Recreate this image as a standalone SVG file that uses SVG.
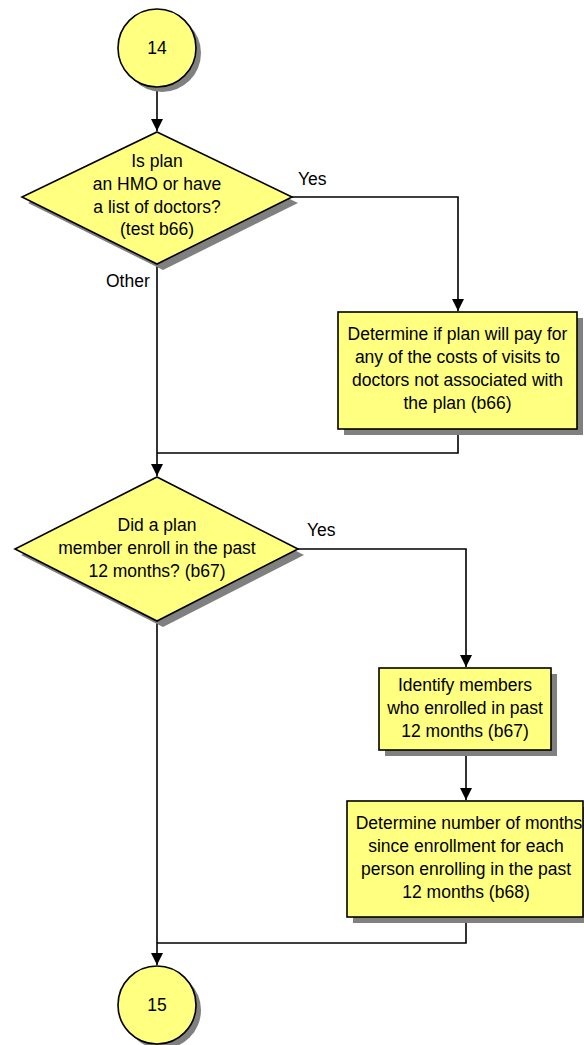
<svg xmlns="http://www.w3.org/2000/svg" width="584" height="1045" viewBox="0 0 584 1045">
  <style>
    .shape { fill: #ffff80; stroke: #000; stroke-width: 1.6; }
    .shadow { fill: #808080; stroke: none; }
    .label { font-family: "Liberation Sans", Arial, sans-serif; font-size: 17.5px; fill: #000; }
    .mid { text-anchor: middle; }
    .wire { fill: none; stroke: #000; stroke-width: 1.6; }
  </style>
  <defs>
    <marker id="arrow" viewBox="0 0 12 12" refX="12" refY="6" markerWidth="12" markerHeight="12" markerUnits="userSpaceOnUse" orient="auto">
      <path d="M0,0 L12,6 L0,12 Z" fill="#000"/>
    </marker>
  </defs>

  <rect width="584" height="1045" fill="#fff"/>

  <!-- connectors -->
  <g id="connectors">
    <path class="wire" d="M157,87 V131" marker-end="url(#arrow)"/>
    <path class="wire" d="M292,197 H458 V311" marker-end="url(#arrow)"/>
    <path class="wire" d="M157,264 V476" marker-end="url(#arrow)"/>
    <path class="wire" d="M458,429 V453 H157"/>
    <path class="wire" d="M298,549 H466 V667" marker-end="url(#arrow)"/>
    <path class="wire" d="M466,750 V800" marker-end="url(#arrow)"/>
    <path class="wire" d="M157,621 V965" marker-end="url(#arrow)"/>
    <path class="wire" d="M466,917 V943 H157"/>
    <text class="label" x="298" y="185">Yes</text>
    <text class="label" x="106" y="287">Other</text>
    <text class="label" x="307" y="536">Yes</text>
  </g>

  <!-- connector 14 -->
  <g id="start14">
    <circle class="shadow" cx="162" cy="53" r="39"/>
    <circle class="shape" cx="157" cy="48" r="39"/>
    <text class="label mid" x="157" y="54" font-size="16">14</text>
  </g>

  <!-- decision: HMO / list of doctors -->
  <g id="decision-b66">
    <polygon class="shadow" points="163,138 298,203 163,270 28,203"/>
    <polygon class="shape" points="157,132 292,197 157,264 22,197"/>
    <text class="label mid" x="157" y="167">Is plan</text>
    <text class="label mid" x="157" y="190">an HMO or have</text>
    <text class="label mid" x="157" y="213">a list of doctors?</text>
    <text class="label mid" x="157" y="235">(test b66)</text>
  </g>

  <!-- process: out-of-plan doctor costs -->
  <g id="process-b66">
    <rect class="shadow" x="344" y="318" width="239" height="117"/>
    <rect class="shape" x="338" y="312" width="239" height="117"/>
    <text class="label mid" x="457.5" y="340">Determine if plan will pay for</text>
    <text class="label mid" x="457.5" y="363">any of the costs of visits to</text>
    <text class="label mid" x="457.5" y="386">doctors not associated with</text>
    <text class="label mid" x="457.5" y="409">the plan (b66)</text>
  </g>

  <!-- decision: recent enrollment -->
  <g id="decision-b67">
    <polygon class="shadow" points="163,483 304,555 163,627 21,555"/>
    <polygon class="shape" points="157,477 298,549 157,621 15,549"/>
    <text class="label mid" x="157" y="531">Did a plan</text>
    <text class="label mid" x="157" y="554">member enroll in the past</text>
    <text class="label mid" x="157" y="577">12 months? (b67)</text>
  </g>

  <!-- process: identify members -->
  <g id="process-b67">
    <rect class="shadow" x="385" y="674" width="172" height="82"/>
    <rect class="shape" x="379" y="668" width="172" height="82"/>
    <text class="label mid" x="465" y="691">Identify members</text>
    <text class="label mid" x="465" y="714">who enrolled in past</text>
    <text class="label mid" x="465" y="737">12 months (b67)</text>
  </g>

  <!-- process: months since enrollment -->
  <g id="process-b68">
    <rect class="shadow" x="353" y="807" width="236" height="116"/>
    <rect class="shape" x="347" y="801" width="236" height="116"/>
    <text class="label mid" x="469" y="829">Determine number of months</text>
    <text class="label mid" x="466" y="852">since enrollment for each</text>
    <text class="label mid" x="466" y="875">person enrolling in the past</text>
    <text class="label mid" x="466" y="898">12 months (b68)</text>
  </g>

  <!-- connector 15 -->
  <g id="end15">
    <circle class="shadow" cx="162" cy="1010" r="39"/>
    <circle class="shape" cx="157" cy="1005" r="39"/>
    <text class="label mid" x="157" y="1011" font-size="16">15</text>
  </g>
</svg>
